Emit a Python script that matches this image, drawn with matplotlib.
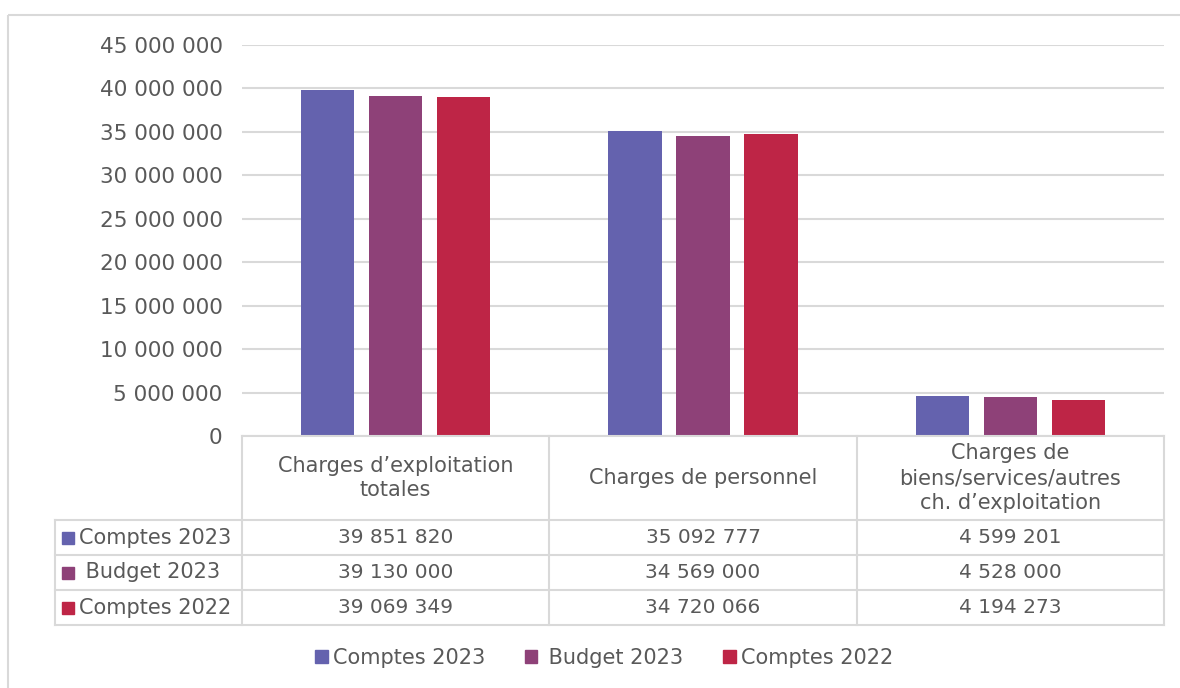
import matplotlib.pyplot as plt
import matplotlib.patches as mpatches
import numpy as np

# data
categories = ["Charges d\u2019exploitation\ntotales",
              "Charges de personnel",
              "Charges de\nbiens/services/autres\nch. d\u2019exploitation"]
series = ["Comptes 2023", "Budget 2023", "Comptes 2022"]
comptes_2023 = [39851820, 35092777, 4599201]
budget_2023 = [39130000, 34569000, 4528000]
comptes_2022 = [39069349, 34720066, 4194273]
yticks = np.arange(0, 45000001, 5000000)

colors = ["#6462AE", "#8E4178", "#BE2546"]
grey = "#D9D9D9"
txt = "#595959"
plt.rcParams['font.family'] = ['DejaVu Sans']

W, H = 1180, 688
fig = plt.figure(figsize=(W / 100, H / 100), dpi=100)

def fx(px):
    return px / W

def fy(py):
    return 1 - py / H

# plot area in pixels
L, R, T, B = 242, 1164, 45, 436
ax = fig.add_axes([fx(L), fy(B), fx(R - L), (B - T) / H])

values = [comptes_2023, budget_2023, comptes_2022]
x = np.arange(len(categories))
bw = 0.173
step = 0.221
for i, (vals, c) in enumerate(zip(values, colors)):
    ax.bar(x + (i - 1) * step, vals, bw, color=c, zorder=3, label=series[i])

ax.set_xlim(-0.5, len(categories) - 0.5)
ax.set_ylim(0, 45000000)
ax.set_yticks(yticks)
ax.set_yticklabels([f"{v:,.0f}".replace(",", " ") for v in yticks])
ax.tick_params(axis='y', length=0, pad=14, labelsize=15.5, labelcolor=txt)
ax.tick_params(axis='x', length=0, labelbottom=False)
ax.grid(axis='y', color=grey, linewidth=1.5, zorder=0)
for s in ax.spines.values():
    s.set_visible(False)

# overlay in pixel coords for the data table and frame
ov = fig.add_axes([0, 0, 1, 1], zorder=-1)
ov.set_xlim(0, W)
ov.set_ylim(H, 0)
ov.axis('off')
ov2 = fig.add_axes([0, 0, 1, 1])
ov2.set_xlim(0, W)
ov2.set_ylim(H, 0)
ov2.axis('off')
ov2.patch.set_alpha(0)

# outer frame
ov.add_patch(mpatches.Rectangle((8, 15), W + 40, H, fill=False, edgecolor=grey, linewidth=1.5))

colw = (R - L) / len(categories)
col_edges = [L + k * colw for k in range(len(categories) + 1)]
left_tab = 55
rows_y = [B, 520, 555, 590, 625]

# horizontal lines
ov2.plot([L, R], [B, B], color=grey, lw=1.5)
for yy in rows_y[1:]:
    ov2.plot([left_tab, R], [yy, yy], color=grey, lw=1.5)
# vertical lines
for xx in col_edges:
    ov2.plot([xx, xx], [B, rows_y[-1]], color=grey, lw=1.5)
ov2.plot([left_tab, left_tab], [rows_y[1], rows_y[-1]], color=grey, lw=1.5)

# header cells
for k, cat in enumerate(categories):
    cx = (col_edges[k] + col_edges[k + 1]) / 2
    ov2.text(cx, (B + rows_y[1]) / 2, cat, ha='center', va='center',
             fontsize=15, color=txt, linespacing=1.3)

# value rows
for r, (name, vals, c) in enumerate(zip(series, values, colors)):
    cy = (rows_y[r + 1] + rows_y[r + 2]) / 2
    ov2.add_patch(mpatches.Rectangle((62, cy - 6), 12, 12, color=c))
    lbl = name if not name.startswith("Budget") else " " + name
    ov2.text(79, cy, lbl, ha='left', va='center', fontsize=15, color=txt)
    for k, v in enumerate(vals):
        cx = (col_edges[k] + col_edges[k + 1]) / 2
        ov2.text(cx, cy, f"{v:,.0f}".replace(",", " "), ha='center', va='center',
                 fontsize=14.5, color=txt)

# bottom legend
handles = [mpatches.Patch(color=c) for c in colors]
labels = ["Comptes 2023", " Budget 2023", "Comptes 2022"]
fig.legend(handles, labels, loc='center', bbox_to_anchor=(fx(604), fy(658)),
           ncol=3, frameon=False, fontsize=15, labelcolor=txt,
           handlelength=0.6, handleheight=0.6, handletextpad=0.25, columnspacing=1.9)

fig.savefig("out.png", dpi=100)
